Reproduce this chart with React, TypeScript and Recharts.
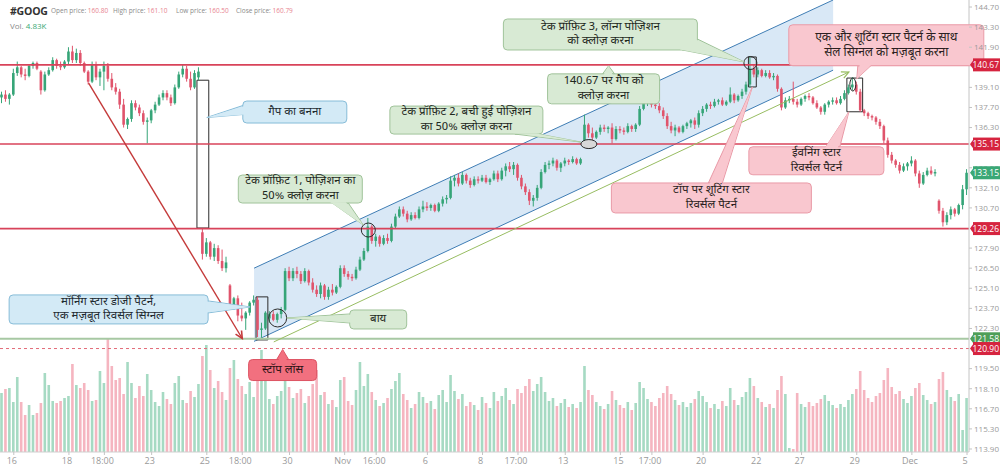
import React from 'react';
import { ComposedChart, Bar, Area, XAxis, YAxis, ReferenceLine, ReferenceArea, ReferenceDot } from 'recharts';

const W = 1000;
const H = 467;
const UP = '#36a578';
const DOWN = '#e0546c';
const UPV = '#a6dac3';
const DOWNV = '#f5b5c0';
const FONT = "'Noto Sans Devanagari','Noto Sans','Open Sans',sans-serif";
const NUMFONT = "'Open Sans','Noto Sans',sans-serif";

// hourly candles, Oct 13 .. Dec 5
const opens = [
  138.4,138.6,138.3,138.6,140.1,140.5,140.0,139.9,140.6,140.8,
  140.2,138.9,140.0,140.3,141.0,140.6,140.5,140.9,141.6,141.0,
  141.5,140.8,140.2,139.5,140.7,139.8,140.2,140.6,139.7,139.1,
  138.8,137.9,136.5,136.9,138.0,137.7,137.3,136.7,136.8,137.5,
  137.9,138.4,138.7,138.4,138.0,139.1,140.0,140.4,139.7,139.1,
  139.8,129.0,127.5,128.3,127.3,127.9,127.0,126.5,125.3,123.8,
  124.4,123.2,123.0,123.4,124.1,124.3,122.2,122.3,123.0,123.3,
  122.9,123.3,123.6,126.3,125.8,126.3,126.1,125.6,126.3,125.5,
  125.0,124.7,125.3,124.5,125.0,124.8,125.2,126.5,126.1,125.9,
  125.8,126.4,127.1,127.7,129.4,128.4,128.7,128.2,128.6,128.4,
  129.4,130.1,130.6,130.3,129.9,130.2,130.0,130.6,130.8,130.7,
  130.9,130.5,131.0,131.3,131.4,132.6,132.8,132.4,133.0,132.6,
  132.3,132.7,132.6,132.8,132.5,132.7,133.1,132.7,133.3,133.6,
  133.4,133.7,132.8,132.2,131.8,131.2,131.4,132.1,133.2,133.7,
  133.8,134.0,133.5,133.8,134.0,133.9,134.1,133.8,135.3,136.5,
  135.9,135.6,136.0,136.3,136.2,136.3,135.5,136.2,136.1,136.0,
  136.4,136.2,136.5,137.6,138.1,138.2,137.9,137.8,137.5,137.1,
  136.4,136.1,136.3,136.0,136.4,136.6,136.8,136.5,137.3,137.6,
  137.9,137.8,138.1,138.2,137.9,138.1,138.6,138.2,138.5,138.8,
  139.3,140.4,140.0,140.3,139.9,140.1,139.8,139.9,139.0,137.7,
  138.2,138.3,138.1,137.9,138.3,138.5,138.4,138.0,137.7,137.4,
  137.9,138.1,138.2,138.0,138.3,138.7,139.1,139.3,138.8,137.5,
  137.3,137.1,137.0,136.7,136.4,135.4,134.4,134.0,133.7,133.3,
  133.6,133.8,134.0,133.1,132.4,133.0,133.3,133.1,131.2,130.5,
  129.7,130.2,130.6,130.3,130.9,132.0,
];
const highs = [
  138.8,138.9,138.7,140.4,140.9,140.6,140.4,140.7,140.9,140.9,
  140.3,140.2,140.5,141.2,141.1,140.9,141.0,141.9,142.0,141.8,
  141.7,140.9,140.3,140.9,140.9,140.4,140.9,140.8,140.1,139.4,
  139.0,138.3,137.0,138.2,138.2,137.9,137.5,137.0,137.6,138.1,
  138.6,138.9,138.9,138.6,139.3,140.2,140.7,140.6,140.2,140.3,
  140.5,129.3,128.6,128.4,128.2,128.1,127.8,127.3,125.4,124.5,
  124.6,124.1,123.5,124.2,124.6,124.5,122.7,123.5,123.5,123.5,
  123.4,123.8,126.5,126.6,126.5,126.6,126.3,126.5,126.4,125.8,
  125.3,125.5,125.4,125.2,125.4,125.3,126.7,126.7,126.3,126.1,
  126.6,127.3,127.9,130.0,129.5,128.9,128.8,128.8,128.9,129.6,
  130.3,130.8,130.8,130.5,130.4,130.4,130.8,131.2,131.1,131.0,
  131.0,131.1,131.5,131.6,132.9,133.0,133.1,133.2,133.1,132.8,
  132.9,132.9,133.0,133.0,132.8,133.3,133.3,133.5,133.8,133.9,
  133.9,133.8,133.0,132.4,132.0,131.6,132.3,133.4,133.9,134.0,
  134.2,134.1,133.9,134.2,134.1,134.3,134.2,134.2,137.2,136.6,
  136.3,136.1,136.5,136.5,136.4,136.6,136.4,136.4,136.3,136.6,
  136.5,136.6,137.8,138.3,138.4,138.3,138.1,138.0,137.7,137.3,
  136.7,136.5,136.4,136.5,136.7,136.9,137.0,137.5,137.8,138.0,
  138.1,138.3,138.3,138.4,138.2,139.1,138.7,138.6,139.0,139.5,
  141.2,140.7,140.5,140.4,140.3,140.3,140.1,140.0,139.1,138.4,
  138.5,139.5,138.3,138.4,138.6,138.7,138.5,138.2,137.8,138.0,
  138.2,138.4,138.4,138.5,138.9,139.3,139.8,139.5,139.0,137.6,
  137.4,137.2,137.1,136.9,136.5,135.6,134.6,134.1,133.9,133.8,
  133.9,134.3,134.1,133.3,133.2,133.5,133.6,133.4,131.3,130.7,
  130.4,130.8,130.7,131.0,132.3,133.4,
];
const lows = [
  138.0,138.1,137.9,138.5,139.9,139.8,139.6,139.8,140.4,140.3,
  138.6,138.8,139.9,140.2,140.4,140.3,140.4,140.7,140.8,140.8,
  140.6,140.1,139.3,139.4,139.6,139.2,138.9,139.5,138.9,138.6,
  137.6,136.3,136.2,136.7,137.5,137.1,136.5,135.2,136.6,137.3,
  137.8,138.2,138.2,137.8,137.9,139.0,139.8,139.5,138.9,139.0,
  139.6,127.1,127.3,127.1,127.0,126.8,126.3,126.2,123.6,123.6,
  122.8,122.8,122.2,123.2,123.9,121.7,121.6,122.2,122.7,122.8,
  122.7,123.0,123.5,125.6,125.6,125.8,125.4,125.5,125.3,124.8,
  124.5,124.4,124.3,124.3,124.6,124.7,125.1,125.9,125.7,125.6,
  125.7,126.3,127.0,127.6,128.2,128.0,128.0,128.1,128.2,128.3,
  129.3,130.0,130.1,129.7,129.8,129.9,129.9,130.4,130.5,130.5,
  130.4,130.4,130.8,131.0,131.3,132.2,132.2,132.3,132.4,132.1,
  132.2,132.4,132.5,132.4,132.3,132.6,132.5,132.6,132.9,133.2,
  133.0,132.6,132.0,131.6,130.9,130.8,131.2,132.0,133.1,133.4,
  133.6,133.3,133.2,133.6,133.7,133.8,133.7,133.7,135.1,135.6,
  135.4,135.5,135.8,136.0,135.9,135.2,135.4,135.9,135.8,135.9,
  136.0,136.0,136.4,137.5,137.8,137.7,137.6,137.3,136.9,136.2,
  135.9,135.7,135.9,135.9,136.2,136.3,136.2,136.3,137.1,137.4,
  137.6,137.7,137.9,137.8,137.8,138.0,138.0,138.1,138.3,138.6,
  139.1,139.8,139.8,139.8,139.8,139.7,139.6,138.8,137.5,137.6,
  138.0,137.9,137.7,137.8,138.1,138.2,137.9,137.6,137.2,137.2,
  137.7,137.9,137.9,137.9,138.2,138.6,138.9,138.6,137.4,137.1,
  136.9,136.8,136.5,136.2,135.2,134.2,133.8,133.5,133.1,133.2,
  133.3,133.6,132.9,132.1,132.3,132.9,133.0,132.9,130.3,129.4,
  129.5,129.9,130.1,130.2,130.6,131.6,
];
const closes = [
  138.6,138.3,138.6,140.1,140.5,140.0,139.9,140.6,140.8,140.4,
  138.9,140.0,140.3,141.0,140.6,140.5,140.9,141.6,141.0,141.5,
  140.8,140.2,139.5,140.7,139.8,140.2,140.6,139.7,139.1,138.8,
  137.9,136.5,136.9,138.0,137.7,137.3,136.7,136.8,137.5,137.9,
  138.4,138.7,138.4,138.0,139.1,140.0,140.4,139.7,139.1,140.1,
  140.2,127.5,128.3,127.3,127.9,127.0,126.5,126.9,123.8,124.4,
  123.2,123.0,123.4,124.1,124.3,122.2,122.3,123.4,123.3,122.9,
  123.3,123.6,126.3,125.8,126.3,126.1,125.6,126.3,125.5,125.0,
  124.7,125.3,124.5,125.0,124.8,125.2,126.5,126.1,125.9,125.8,
  126.4,127.1,127.7,129.4,128.4,128.7,128.2,128.6,128.4,129.4,
  130.1,130.6,130.3,129.9,130.2,130.0,130.6,130.8,130.7,130.9,
  130.5,131.0,131.3,131.4,132.6,132.8,132.4,133.0,132.6,132.3,
  132.7,132.6,132.8,132.5,132.7,133.1,132.7,133.3,133.6,133.4,
  133.7,132.8,132.2,131.8,131.2,131.4,132.1,133.2,133.7,133.8,
  134.0,133.5,133.8,134.0,133.9,134.1,133.8,134.1,136.5,135.9,
  135.6,136.0,136.3,136.2,136.3,135.5,136.2,136.1,136.0,136.4,
  136.2,136.5,137.6,138.1,138.2,137.9,137.8,137.5,137.1,136.4,
  136.1,136.3,136.0,136.4,136.6,136.8,136.5,137.3,137.6,137.9,
  137.8,138.1,138.2,137.9,138.1,138.6,138.2,138.5,138.8,139.3,
  140.4,140.0,140.3,139.9,140.1,139.8,139.9,139.0,137.7,138.2,
  138.3,138.1,137.9,138.3,138.5,138.4,138.0,137.7,137.4,137.9,
  138.1,138.2,138.0,138.3,138.7,139.1,139.3,138.8,137.5,137.3,
  137.1,137.0,136.7,136.4,135.4,134.4,134.0,133.7,133.3,133.6,
  133.8,134.0,133.1,132.4,133.0,133.3,133.1,133.2,130.5,129.7,
  130.2,130.6,130.3,130.9,132.0,133.15,
];
const volumes = [
  5.9,6.3,6.4,5.0,7.5,5.0,3.7,4.7,3.7,3.9,
  4.9,7.9,6.7,5.1,4.9,5.1,5.4,5.6,8.8,6.7,
  6.4,6.9,6.2,5.1,5.2,8.1,6.9,11.4,8.6,7.2,
  7.4,5.8,9.0,6.9,5.4,6.6,5.6,7.8,6.2,5.0,
  4.6,6.0,5.3,4.8,6.9,7.6,5.2,4.9,6.1,5.5,
  6.8,9.6,10.7,8.2,6.4,7.1,6.0,5.2,8.4,9.2,
  7.3,6.6,5.8,7.0,5.5,8.8,10.2,7.4,5.3,4.8,
  5.6,6.1,8.0,6.5,5.4,5.9,6.3,4.9,5.6,6.8,
  8.2,5.7,6.0,4.8,5.2,4.5,7.2,7.5,5.1,4.7,
  6.2,9.0,6.6,7.8,6.0,5.2,4.6,4.9,5.4,6.3,
  7.1,7.9,5.8,5.2,4.4,4.8,6.0,5.5,4.9,5.1,
  4.3,5.7,6.2,5.0,7.7,6.1,5.3,5.8,4.6,5.0,
  4.7,4.2,5.5,4.9,4.4,6.0,5.1,5.6,6.4,5.2,
  4.8,6.3,5.9,6.6,7.3,6.1,6.8,7.5,6.0,5.1,
  5.4,4.6,4.9,5.3,4.5,4.8,4.4,5.0,8.6,6.2,
  5.7,5.0,4.6,4.3,4.8,6.1,5.2,4.7,4.4,5.0,
  4.2,4.9,7.0,6.4,5.3,5.0,4.6,5.4,5.9,6.6,
  5.8,5.2,4.7,5.0,4.5,4.9,5.3,6.1,5.6,5.0,
  4.4,4.8,4.3,5.1,4.6,6.4,5.2,4.7,5.5,6.0,
  7.4,6.6,5.4,5.0,4.5,4.8,4.4,6.2,7.6,5.8,
  0.4,0.3,5.9,4.8,4.5,5.0,4.6,4.9,5.3,5.7,
  5.1,4.7,4.4,4.8,4.5,5.2,5.8,6.3,8.1,6.2,
  5.4,5.0,5.6,5.9,7.2,8.4,6.5,5.8,6.1,5.3,
  4.9,5.6,6.4,6.9,5.7,5.2,4.8,5.0,7.3,8.0,
  6.2,5.5,5.1,5.8,2.2,5.4,
];

const xLabels: Record<number, string> = {
  3: '16', 17: '18', 26: '18:00', 38: '23', 52: '25', 61: '18:00', 73: '30', 87: 'Nov',
  95: '16:00', 108: '6', 122: '8', 131: '17:00', 143: '13', 157: '15', 165: '17:00',
  178: '20', 192: '22', 203: '27', 217: '29', 231: 'Dec', 245: '5',
};
const priceTicks = [144.7, 143.3, 141.9, 139.1, 137.7, 136.3, 133.5, 132.1, 130.7, 127.9, 126.5, 125.1, 123.7, 122.3, 119.5, 118.1, 116.7, 115.3, 113.9];
const tagLevels = [
  { v: 140.67, bg: '#d6243f' },
  { v: 135.15, bg: '#d6243f' },
  { v: 129.26, bg: '#d6243f' },
  { v: 121.58, bg: '#4e9e58' },
  { v: 120.9, bg: '#d6243f' },
  { v: 133.15, bg: '#3aa876' },
];
const redLevels = [140.67, 135.15, 129.26];
const supportLevel = 121.58;
const stopLevel = 120.9;

const channelIdx = [64, 211];
const channelLower = [121.4, 140.3];
const channelUpper = [126.5, 145.19];

const patternBoxes = [
  { x1: 50, x2: 52, y1: 129.3, y2: 139.6 },
  { x1: 65, x2: 67, y1: 121.5, y2: 124.5 },
  { x1: 190, x2: 191, y1: 139.13, y2: 141.22 },
  { x1: 215, x2: 218, y1: 137.4, y2: 139.75 },
];
const circleMarks = [
  { x: 93, y: 129.16, rx: 7, ry: 7, fill: 'none' },
  { x: 70, y: 123.03, rx: 9, ry: 9, fill: 'none' },
  { x: 190, y: 140.8, rx: 6.5, ry: 6.5, fill: 'none' },
  { x: 149, y: 135.15, rx: 8, ry: 4.5, fill: '#d8d8d8' },
  { x: 216, y: 139.3, rx: 3, ry: 6.5, fill: 'none' },
];
const arrowSegments = [
  { from: { x: 22, y: 139.4 }, to: { x: 61, y: 121.6 }, color: '#c43a3a', w: 1.4 },
  { from: { x: 69, y: 121.36 }, to: { x: 215, y: 140.17 }, color: '#98bd62', w: 1 },
];

type Callout = {
  x: number; y: number; box: [number, number, number, number];
  base: [number, number][]; tip: [number, number]; lines: string[];
  style: 'blue' | 'green' | 'pink' | 'stop'; fs?: number;
};
const callouts: Callout[] = [
  { x: 52, y: 137.0, box: [36, -16.5, 140, 5.5], base: [[36, -12], [36, -3]], tip: [0, 0], lines: ['गैप का बनना'], style: 'blue' },
  { x: 63, y: 123.8, box: [-241, -12, -42, 17], base: [[-42, -6], [-42, 6]], tip: [0, 0], lines: ['मॉर्निंग स्टार डोजी पैटर्न,', 'एक मज़बूत रिवर्सल सिग्नल'], style: 'blue' },
  { x: 93, y: 129.16, box: [-130, -55, -6, -27], base: [[-36, -27], [-20, -27]], tip: [-5, -5], lines: ['टेक प्रॉफ़िट 1, पोज़िशन का', '50% क्लोज़ करना'], style: 'green' },
  { x: 70, y: 123.03, box: [72, -8, 129, 11], base: [[72, -4], [72, 5]], tip: [9, 0], lines: ['बाय'], style: 'green' },
  { x: 149, y: 135.15, box: [-199, -38, -46, -10], base: [[-74, -10], [-50, -10]], tip: [-8, -2], lines: ['टेक प्रॉफ़िट 2, बची हुई पोज़िशन', 'का 50% क्लोज़ करना'], style: 'green' },
  { x: 154, y: 140.67, box: [-61, 9, 51, 39], base: [[-6, 9], [6, 9]], tip: [0, 1], lines: ['140.67 पर गैप को', 'क्लोज़ करना'], style: 'green' },
  { x: 190, y: 140.8, box: [-247, -44, -53, -13], base: [[-53, -24], [-68, -13]], tip: [-6, -1], lines: ['टेक प्रॉफ़िट 3, लॉन्ग पोज़िशन', 'को क्लोज़ करना'], style: 'green' },
  { x: 216, y: 139.7, box: [-64, -54, 131, -13], base: [[5, -13], [18, -13]], tip: [4, 0], lines: ['एक और शूटिंग स्टार पैटर्न के साथ', 'सेल सिग्नल को मज़बूत करना'], style: 'pink', fs: 12 },
  { x: 215, y: 137.4, box: [-100, 35, 35, 63], base: [[-23, 35], [-9, 35]], tip: [0, 0], lines: ['ईवनिंग स्टार', 'रिवर्सल पैटर्न'], style: 'pink' },
  { x: 190, y: 139.13, box: [-139, 96, 61, 126], base: [[-42, 96], [-28, 96]], tip: [2, 0], lines: ['टॉप पर शूटिंग स्टार', 'रिवर्सल पैटर्न'], style: 'pink' },
  { x: 71, y: 120.9, box: [-33, 11, 35, 32], base: [[-5, 11], [7, 11]], tip: [1, 1], lines: ['स्टॉप लॉस'], style: 'stop' },
];

const STYLES: Record<string, { fill: string; stroke: string; text: string }> = {
  blue: { fill: '#d3eaf6', stroke: '#86bcd8', text: '#1e2a30' },
  green: { fill: '#d8ead4', stroke: '#a0c39a', text: '#1f291e' },
  pink: { fill: '#f9c7cf', stroke: '#e99aa7', text: '#2b1f21' },
  stop: { fill: '#f2707f', stroke: '#dd5363', text: '#2b1214' },
};

const data = opens.map((o, i) => ({
  i,
  o,
  h: highs[i],
  l: lows[i],
  c: closes[i],
  v: volumes[i],
  range: [lows[i], highs[i]],
  chan: i === channelIdx[0] ? [channelLower[0], channelUpper[0]] : i === channelIdx[1] ? [channelLower[1], channelUpper[1]] : [null, null],
}));

const Candle = (p: any) => {
  const { x, y, width, height, payload } = p;
  if (!payload) return <g />;
  const { o, h, l, c } = payload;
  const color = c >= o ? UP : DOWN;
  const top = Math.min(y, y + height);
  const hh = Math.abs(height);
  const ratio = h - l > 0 ? hh / (h - l) : 0;
  const cx = x + width / 2;
  const bTop = top + (h - Math.max(o, c)) * ratio;
  const bBot = top + (h - Math.min(o, c)) * ratio;
  return (
    <g>
      <line x1={cx} x2={cx} y1={top} y2={top + hh} stroke={color} strokeWidth={1} />
      <rect x={cx - 1.3} y={bTop} width={2.6} height={Math.max(1, bBot - bTop)} fill={color} />
    </g>
  );
};

const VolBar = (p: any) => {
  const { x, y, width, height, payload } = p;
  if (!payload) return <g />;
  const color = payload.c >= payload.o ? UPV : DOWNV;
  const top = Math.min(y, y + height);
  return <rect x={x + width / 2 - 1.3} y={top} width={2.6} height={Math.abs(height)} fill={color} />;
};

const YTick = (p: any) => {
  const { x, y, payload } = p;
  const v = payload.value as number;
  const tag = tagLevels.find((t) => Math.abs(t.v - v) < 1e-6);
  if (tag) {
    return (
      <g>
        <polygon points={`${x + 1},${y} ${x + 5},${y - 5.5} ${x + 5},${y + 5.5}`} fill={tag.bg} />
        <rect x={x + 4} y={y - 6.5} width={27} height={13} fill={tag.bg} />
        <text x={x + 30} y={y} dy="0.35em" textAnchor="end" fontSize={8.5} fill="#fff" fontFamily={NUMFONT}>{v.toFixed(2)}</text>
      </g>
    );
  }
  return (
    <g>
      <line x1={x} x2={x + 3} y1={y} y2={y} stroke="#c4c4c4" />
      <text x={x + 30} y={y} dy="0.35em" textAnchor="end" fontSize={8} fill="#9a9a9a" fontFamily={NUMFONT}>{v.toFixed(2)}</text>
    </g>
  );
};

const XTick = (p: any) => {
  const { x, y, payload } = p;
  const lab = xLabels[payload.value as number];
  if (lab === undefined) return <g />;
  return (
    <g>
      <line x1={x} x2={x} y1={y} y2={y + 3} stroke="#c4c4c4" />
      <text x={x - 2} y={y + 12} textAnchor="middle" fontSize={9} fill="#9a9a9a" fontFamily={NUMFONT}>{lab}</text>
    </g>
  );
};

const arrowShape = (color: string, w: number) => (p: any) => {
  const { x1, y1, x2, y2 } = p;
  const ang = Math.atan2(y2 - y1, x2 - x1);
  const L = 8;
  const spread = 0.45;
  const ax = x2 - L * Math.cos(ang - spread);
  const ay = y2 - L * Math.sin(ang - spread);
  const bx = x2 - L * Math.cos(ang + spread);
  const by = y2 - L * Math.sin(ang + spread);
  return (
    <g>
      <line x1={x1} y1={y1} x2={x2} y2={y2} stroke={color} strokeWidth={w} />
      <polyline points={`${ax},${ay} ${x2},${y2} ${bx},${by}`} fill="none" stroke={color} strokeWidth={w + 0.2} />
    </g>
  );
};

const renderCallout = (cx: number, cy: number, s: Callout) => {
  const st = STYLES[s.style];
  const [x0, y0, x1, y1] = s.box;
  const bx = cx + x0;
  const by = cy + y0;
  const bw = x1 - x0;
  const bh = y1 - y0;
  const mx = bx + bw / 2;
  const my = by + bh / 2;
  const tip = [cx + s.tip[0], cy + s.tip[1]];
  const base = s.base.map(([dx, dy]) => [cx + dx, cy + dy]);
  const inner = base.map(([px, py]) => {
    const vx = mx - px;
    const vy = my - py;
    const d = Math.hypot(vx, vy) || 1;
    return [px + (vx / d) * 2.5, py + (vy / d) * 2.5];
  });
  const outerPts = [tip, ...base].map((q) => q.join(',')).join(' ');
  const innerPts = [tip, ...inner].map((q) => q.join(',')).join(' ');
  const fs = s.fs ?? 11.5;
  const lh = fs + 3;
  return (
    <g>
      <polygon points={outerPts} fill={st.fill} stroke={st.stroke} strokeWidth={1} />
      <rect x={bx} y={by} width={bw} height={bh} rx={4} fill={st.fill} stroke={st.stroke} strokeWidth={1} />
      <polygon points={innerPts} fill={st.fill} stroke="none" />
      {s.lines.map((t, k) => (
        <text
          key={k}
          x={mx}
          y={my + (k - (s.lines.length - 1) / 2) * lh}
          textAnchor="middle"
          dominantBaseline="central"
          fontSize={fs}
          fill={st.text}
          fontFamily={FONT}
        >
          {t}
        </text>
      ))}
    </g>
  );
};

const headerItems = [
  { label: 'Open price:', value: '160.80', x: 51 },
  { label: 'High price:', value: '161.10', x: 113 },
  { label: 'Low price:', value: '160.50', x: 176 },
  { label: 'Close price:', value: '160.79', x: 236 },
];

export default function App() {
  return (
    <div style={{ position: 'absolute', left: 0, top: 0, width: W, height: H, background: '#fff', overflow: 'hidden' }}>
      <ComposedChart
        width={W}
        height={H}
        data={data}
        margin={{ top: 0, right: 0, bottom: 0, left: 0 }}
        barGap={-3}
      >
        <XAxis
          dataKey="i"
          type="category"
          height={15}
          interval={0}
          tickLine={false}
          tickSize={0}
          tickMargin={0}
          axisLine={{ stroke: '#cfcfcf' }}
          tick={<XTick />}
        />
        <YAxis
          yAxisId="price"
          orientation="right"
          width={31}
          domain={[113.69, 145.19]}
          allowDataOverflow
          ticks={[...priceTicks, ...tagLevels.map((t) => t.v)]}
          interval={0}
          tickLine={false}
          tickSize={0}
          tickMargin={0}
          axisLine={{ stroke: '#c4c4c4' }}
          tick={<YTick />}
        />
        <YAxis yAxisId="vol" hide domain={[0, 45.2]} allowDataOverflow />

        <Area
          yAxisId="price"
          dataKey="chan"
          type="linear"
          connectNulls
          stroke="#3f7db4"
          strokeWidth={1}
          fill="#cfe2f4"
          fillOpacity={0.8}
          dot={false}
          activeDot={false}
          isAnimationActive={false}
        />
        <Bar yAxisId="vol" dataKey="v" barSize={3} shape={<VolBar />} isAnimationActive={false} />
        <Bar yAxisId="price" dataKey="range" barSize={3} shape={<Candle />} isAnimationActive={false} />

        {redLevels.map((lv) => (
          <ReferenceLine key={lv} yAxisId="price" y={lv} stroke="#d8435a" strokeWidth={1.6} />
        ))}
        <ReferenceLine yAxisId="price" y={supportLevel} stroke="#a7c8a3" strokeWidth={2} />
        <ReferenceLine yAxisId="price" y={stopLevel} stroke="#e36b78" strokeWidth={1} strokeDasharray="3 3" />

        {arrowSegments.map((a, k) => (
          <ReferenceLine
            key={'ar' + k}
            yAxisId="price"
            segment={[a.from, a.to]}
            stroke={a.color}
            shape={arrowShape(a.color, a.w)}
          />
        ))}

        {patternBoxes.map((b, k) => (
          <ReferenceArea
            key={'bx' + k}
            yAxisId="price"
            x1={b.x1}
            x2={b.x2}
            y1={b.y1}
            y2={b.y2}
            fill="none"
            fillOpacity={0}
            stroke="#2b2b2b"
            strokeWidth={1}
          />
        ))}

        {circleMarks.map((c, k) => (
          <ReferenceDot
            key={'cm' + k}
            yAxisId="price"
            x={c.x}
            y={c.y}
            r={c.rx}
            shape={(p: any) => (
              <ellipse cx={p.cx} cy={p.cy} rx={c.rx} ry={c.ry} fill={c.fill} stroke="#2b2b2b" strokeWidth={1} />
            )}
          />
        ))}

        {callouts.map((s, k) => (
          <ReferenceDot
            key={'co' + k}
            yAxisId="price"
            x={s.x}
            y={s.y}
            r={1}
            shape={(p: any) => renderCallout(p.cx, p.cy, s)}
          />
        ))}
      </ComposedChart>

      <div style={{ position: 'absolute', left: 10, top: 4, fontFamily: NUMFONT, fontSize: 10.5, lineHeight: '14px', fontWeight: 700, color: '#333', letterSpacing: -0.2 }}>
        #GOOG
      </div>
      {headerItems.map((it) => (
        <div
          key={it.label}
          style={{ position: 'absolute', left: it.x, top: 6, fontFamily: NUMFONT, fontSize: 6.5, lineHeight: '9px', color: '#8a8a8a', whiteSpace: 'nowrap' }}
        >
          {it.label} <span style={{ color: '#e8848f' }}>{it.value}</span>
        </div>
      ))}
      <div style={{ position: 'absolute', left: 10, top: 21, fontFamily: NUMFONT, fontSize: 8, lineHeight: '10px', color: '#8a8a8a', whiteSpace: 'nowrap' }}>
        Vol. <span style={{ color: '#3aa876' }}>4.83K</span>
      </div>
    </div>
  );
}
